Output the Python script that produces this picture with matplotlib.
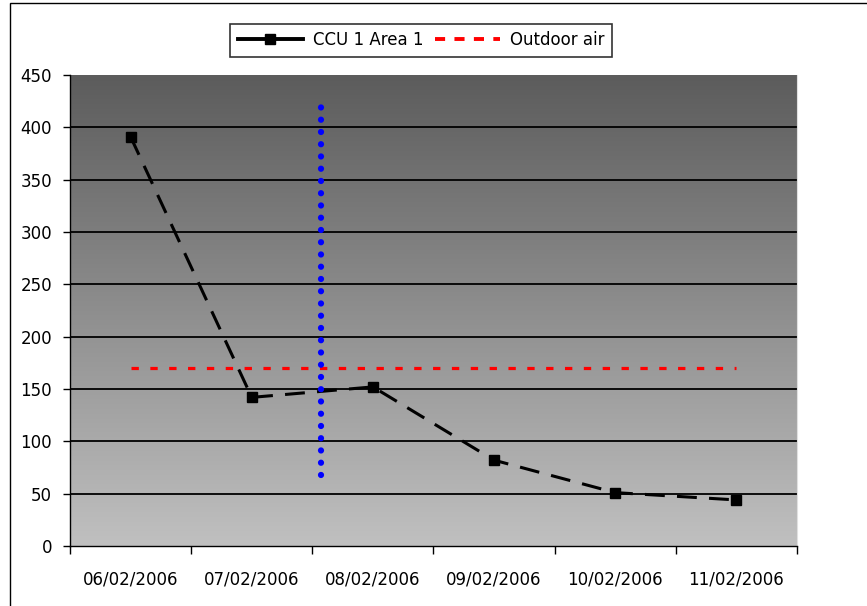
import numpy as np
import matplotlib
matplotlib.use("Agg")
import matplotlib.pyplot as plt
from matplotlib.patches import Rectangle

plt.rcParams['font.family'] = ['DejaVu Sans']

# data
dates = ['06/02/2006', '07/02/2006', '08/02/2006', '09/02/2006', '10/02/2006', '11/02/2006']
ccu_area1 = [391, 142, 152, 82, 51, 44]
outdoor_air = [170, 170, 170, 170, 170, 170]
event_pos = 1.57          # vertical marker between 07/02 and 08/02
event_range = [68, 428]
y_ticks = [0, 50, 100, 150, 200, 250, 300, 350, 400, 450]

fig = plt.figure(figsize=(8.67, 6.06), dpi=100)
ax = fig.add_axes([70 / 867, 60 / 606, 727 / 867, 471 / 606])

n = len(dates)
x = np.arange(n)
ax.set_xlim(-0.5, n - 0.5)
ax.set_ylim(0, 450)

# gradient background (dark at top, light at bottom)
grad = np.linspace(0, 1, 256).reshape(-1, 1)
ax.imshow(grad, extent=[-0.5, n - 0.5, 0, 450], origin='lower', aspect='auto',
          cmap=matplotlib.colors.LinearSegmentedColormap.from_list('g', ['#c0c0c0', '#5c5c5c']),
          zorder=0)

for v in y_ticks[1:-1]:
    ax.axhline(v, color='black', lw=1.3, zorder=1)

ax.plot(x, ccu_area1, color='black', lw=2.2, dashes=(6.5, 4), zorder=3)
ax.plot(x, ccu_area1, ls='none', marker='s', ms=6.5, color='black', zorder=4)
ccu_handle, = ax.plot([], [], color='black', lw=2.8, marker='s', ms=6.5)

red_line, = ax.plot(x, outdoor_air, color='#ff0000', lw=2.3, dashes=(2.3, 3.6),
                    dash_capstyle='butt', zorder=3)
red_handle, = ax.plot([], [], color='#ff0000', lw=2.8, dashes=(2.6, 2.4),
                      dash_capstyle='butt')

ax.plot([event_pos, event_pos], event_range, color='#0000ff', lw=4.5,
        linestyle=(0, (0.01, 1.95)), dash_capstyle='round', zorder=3)

# axes styling
ax.set_yticks(y_ticks)
ax.tick_params(axis='y', length=5, width=1, labelsize=12, pad=8, direction='out')
ax.set_xticks(np.arange(-0.5, n, 1))
ax.set_xticklabels([])
ax.set_xticks(x, minor=True)
ax.set_xticklabels(dates, minor=True)
ax.tick_params(axis='x', which='major', length=6, width=1, direction='out')
ax.tick_params(axis='x', which='minor', length=0, labelsize=12, pad=18)
ax.spines['top'].set_visible(False)
ax.spines['right'].set_color('#e0e0e0')
ax.spines['left'].set_linewidth(1)
ax.spines['bottom'].set_linewidth(1)

leg = fig.legend([ccu_handle, red_handle], ['CCU 1 Area 1', 'Outdoor air'],
                 loc='center', bbox_to_anchor=(421 / 867, 1 - 40 / 606), ncol=2,
                 fontsize=12, frameon=True, fancybox=False, edgecolor='black',
                 handlelength=3.9, handletextpad=0.6, columnspacing=0.7,
                 borderpad=0.45, borderaxespad=0)
leg.get_frame().set_linewidth(1.2)

# outer chart border
fig.patches.append(Rectangle((10 / 867, -0.1), 1.0, 1 - 3 / 606 + 0.1,
                             transform=fig.transFigure, fill=False,
                             edgecolor='black', lw=1))

fig.savefig('out.png', dpi=100)
